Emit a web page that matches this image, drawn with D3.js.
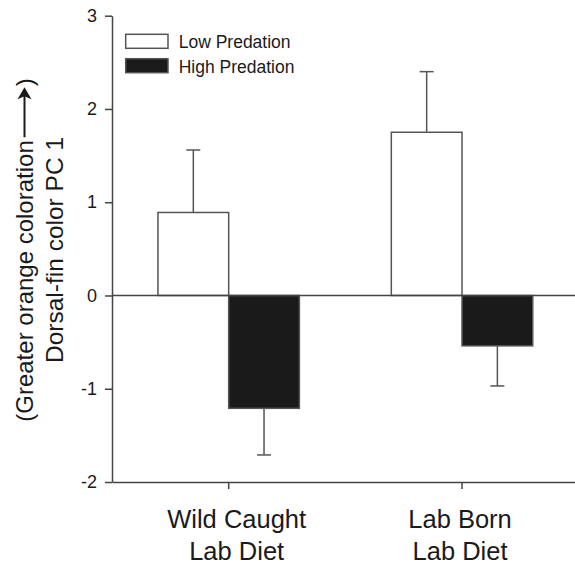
<!DOCTYPE html>
<html>
<head>
<meta charset="utf-8">
<script src="https://cdn.jsdelivr.net/npm/d3@7"></script>
<style>
  html, body { margin: 0; padding: 0; background: #fff; }
  svg { display: block; }
  text { font-family: "Liberation Sans", Arial, sans-serif; fill: #1a1a1a; }
</style>
</head>
<body>
<svg id="chart" width="575" height="567"></svg>
<script>
// ---- data ----
const categories = ["Wild Caught|Lab Diet", "Lab Born|Lab Diet"];
const seriesNames = ["Low Predation", "High Predation"];
const lowValues = [0.89, 1.75];
const lowErrors = [0.67, 0.65];
const highValues = [-1.21, -0.54];
const highErrors = [0.50, 0.43];
const yTicks = [-2, -1, 0, 1, 2, 3];

const seriesFill = ["#ffffff", "#1a1a1a"];
const strokeCol = "#555555";
const labelShift = [8, -2];

const svg = d3.select("#chart");

const y = d3.scaleLinear().domain([-2, 3]).range([482, 15.7]);
const x0 = d3.scaleBand().domain(categories).range([112, 578.7]).paddingInner(0).paddingOuter(0);
const x1 = d3.scaleBand().domain(seriesNames).range([0, x0.bandwidth()]).paddingInner(0).paddingOuter(0.65);

const rows = [];
categories.forEach((c, i) => {
  rows.push({cat: c, s: seriesNames[0], v: lowValues[i], e: lowErrors[i], fill: seriesFill[0]});
  rows.push({cat: c, s: seriesNames[1], v: highValues[i], e: highErrors[i], fill: seriesFill[1]});
});

// error bars (one-sided)
const eg = svg.append("g").attr("stroke", strokeCol).attr("stroke-width", 1.5);
rows.forEach(d => {
  const cx = x0(d.cat) + x1(d.s) + x1.bandwidth() / 2;
  const end = d.v >= 0 ? d.v + d.e : d.v - d.e;
  eg.append("line").attr("x1", cx).attr("x2", cx).attr("y1", y(d.v)).attr("y2", y(end));
  eg.append("line").attr("x1", cx - 7).attr("x2", cx + 7).attr("y1", y(end)).attr("y2", y(end));
});

// bars
svg.append("g").selectAll("rect").data(rows).join("rect")
  .attr("x", d => x0(d.cat) + x1(d.s))
  .attr("width", x1.bandwidth())
  .attr("y", d => y(Math.max(0, d.v)))
  .attr("height", d => Math.abs(y(d.v) - y(0)))
  .attr("fill", d => d.fill)
  .attr("stroke", strokeCol)
  .attr("stroke-width", 1.5);

// zero line
svg.append("line").attr("x1", 112).attr("x2", 575).attr("y1", y(0)).attr("y2", y(0))
  .attr("stroke", "#444").attr("stroke-width", 1.5);

// y axis
const yAxis = svg.append("g").attr("transform", "translate(112,0)")
  .call(d3.axisLeft(y).tickValues(yTicks).tickSize(7).tickSizeOuter(0).tickPadding(8).tickFormat(d => String(d)));
yAxis.selectAll("path, line").attr("stroke", "#444").attr("stroke-width", 1.5);
yAxis.selectAll("text").attr("font-size", 18).attr("fill", "#1a1a1a")
  .attr("font-family", "Liberation Sans, Arial, sans-serif");

// x axis
const xAxis = svg.append("g").attr("transform", "translate(0,482)")
  .call(d3.axisBottom(x0).tickSize(7).tickSizeOuter(0).tickFormat(""));
xAxis.selectAll("path, line").attr("stroke", "#444").attr("stroke-width", 1.5);
categories.forEach((c, ci) => {
  const cx = x0(c) + x0.bandwidth() / 2 + labelShift[ci];
  const parts = c.split("|");
  const t = svg.append("text").attr("text-anchor", "middle").attr("font-size", 25.5);
  parts.forEach((p, i) => {
    t.append("tspan").attr("x", cx).attr("y", 528 + i * 32).text(p);
  });
});

// legend
seriesNames.forEach((s, i) => {
  const ly = 34.3 + i * 24.4;
  svg.append("rect").attr("x", 125.7).attr("y", ly).attr("width", 42.3).attr("height", 14)
    .attr("fill", seriesFill[i]).attr("stroke", strokeCol).attr("stroke-width", 1.5);
  svg.append("text").attr("x", 178.7).attr("y", ly + 14).attr("font-size", 17.5).text(s);
});

// y axis title
const cy = 250;
const g2 = svg.append("g").attr("transform", `translate(63,${cy}) rotate(-90)`);
g2.append("text").attr("text-anchor", "middle").attr("font-size", 24.5).text("Dorsal-fin color PC 1");

const g1 = svg.append("g").attr("transform", `translate(33,${cy}) rotate(-90)`);
const t1 = g1.append("text").attr("font-size", 24).text("(Greater orange coloration");
const t3 = g1.append("text").attr("font-size", 24).text(")");
const w1 = t1.node().getComputedTextLength();
const w3 = t3.node().getComputedTextLength();
const arrowLen = 50, gap1 = 3, gap2 = 1;
const total = w1 + gap1 + arrowLen + gap2 + w3;
const x0t = -total / 2;
t1.attr("x", x0t);
const ax0 = x0t + w1 + gap1, ax1 = ax0 + arrowLen;
const ay = -8.5;
g1.append("line").attr("x1", ax0).attr("x2", ax1 - 2).attr("y1", ay).attr("y2", ay)
  .attr("stroke", "#1a1a1a").attr("stroke-width", 2);
g1.append("path").attr("d", `M${ax1 - 12},${ay - 7} L${ax1},${ay} L${ax1 - 12},${ay + 7} L${ax1 - 9},${ay} Z`)
  .attr("fill", "#1a1a1a");
t3.attr("x", ax1 + gap2);
</script>
</body>
</html>
